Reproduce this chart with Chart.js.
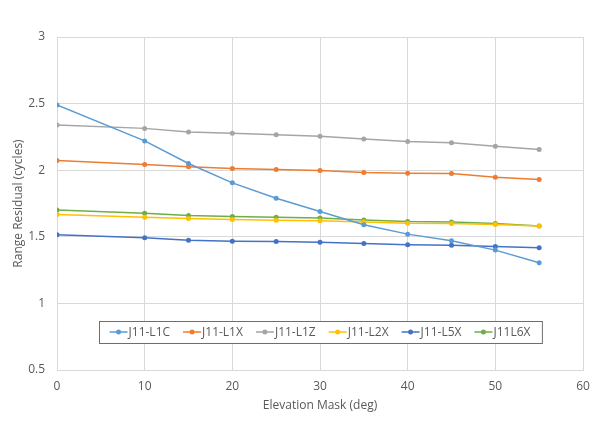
<!DOCTYPE html>
<html>
<head>
<meta charset="utf-8">
<script src="https://cdn.jsdelivr.net/npm/chart.js@4/dist/chart.umd.min.js"></script>
<style>
  html, body { margin: 0; padding: 0; background: #fff; }
  #wrap { width: 600px; height: 444px; position: relative; }
</style>
</head>
<body>
<div id="wrap"><canvas id="myChart"></canvas></div>
<script>
// Elevation mask angles (deg)
const elevation = [0, 10, 15, 20, 25, 30, 35, 40, 45, 50, 55];

// Range residual per signal (cycles)
const l1c = [2.49, 2.22, 2.05, 1.905, 1.79, 1.69, 1.59, 1.52, 1.47, 1.40, 1.305];
const l1x = [2.072, 2.042, 2.025, 2.012, 2.005, 1.997, 1.982, 1.977, 1.975, 1.947, 1.93];
const l1z = [2.34, 2.314, 2.287, 2.277, 2.267, 2.254, 2.235, 2.215, 2.207, 2.18, 2.155];
const l2x = [1.667, 1.647, 1.637, 1.63, 1.624, 1.62, 1.612, 1.602, 1.6, 1.592, 1.582];
const l5x = [1.515, 1.492, 1.474, 1.467, 1.464, 1.459, 1.449, 1.44, 1.437, 1.427, 1.417];
const l6x = [1.702, 1.677, 1.66, 1.652, 1.647, 1.642, 1.627, 1.614, 1.612, 1.6, 1.582];

const seriesNames = ['J11-L1C', 'J11-L1X', 'J11-L1Z', 'J11-L2X', 'J11-L5X', 'J11L6X'];
const seriesData = [l1c, l1x, l1z, l2x, l5x, l6x];
const colors = ['#5B9BD5', '#ED7D31', '#A5A5A5', '#FFC000', '#4472C4', '#70AD47'];

const FONT = '"Open Sans", sans-serif';
const TEXT = '#595959';

const datasets = seriesNames.map((name, i) => ({
    label: name,
    data: elevation.map((x, j) => ({ x: x, y: seriesData[i][j] })),
    borderColor: colors[i],
    backgroundColor: colors[i],
    borderWidth: 1.5,
    pointRadius: 2.5,
    pointBorderWidth: 0,
    tension: 0
}));

// legend box drawn inside the plot, near the bottom
const boxLegend = {
    id: 'boxLegend',
    afterDraw(chart) {
        const c = chart.ctx;
        const area = chart.chartArea;
        c.save();
        c.font = '12px ' + FONT;
        const seg = 18, gap = 1, sep = 13;
        const widths = seriesNames.map(n => seg + gap + c.measureText(n).width);
        const total = widths.reduce((a, b) => a + b, 0) + sep * (widths.length - 1);
        const boxW = total + 22, boxH = 22;
        const cx = (area.left + area.right) / 2;
        const cy = area.bottom - 38;
        const bx = Math.round(cx - boxW / 2) + 0.5, by = Math.round(cy - boxH / 2) + 0.5;
        c.fillStyle = '#fff';
        c.fillRect(bx, by, boxW, boxH);
        c.strokeStyle = '#6E6E6E';
        c.lineWidth = 1;
        c.strokeRect(bx, by, boxW, boxH);
        let x = cx - total / 2;
        c.textBaseline = 'middle';
        seriesNames.forEach((n, i) => {
            c.strokeStyle = colors[i];
            c.lineWidth = 1.5;
            c.beginPath();
            c.moveTo(x, cy);
            c.lineTo(x + seg, cy);
            c.stroke();
            c.fillStyle = colors[i];
            c.beginPath();
            c.arc(x + seg / 2, cy, 2.5, 0, Math.PI * 2);
            c.fill();
            c.fillStyle = TEXT;
            c.fillText(n, x + seg + gap, cy + 0.5);
            x += widths[i] + sep;
        });
        c.restore();
    }
};

const ctx = document.getElementById('myChart').getContext('2d');
const myChart = new Chart(ctx, {
    type: 'line',
    data: { datasets: datasets },
    options: {
        responsive: true,
        maintainAspectRatio: false,
        animation: false,
        layout: { padding: { top: 37, right: 17, left: 0, bottom: 0 } },
        plugins: { legend: { display: false }, tooltip: { enabled: false } },
        scales: {
            x: {
                type: 'linear',
                min: 0,
                max: 60,
                ticks: { stepSize: 10, padding: 9, color: TEXT, font: { family: FONT, size: 12 } },
                grid: { color: '#D9D9D9', drawTicks: false },
                border: { color: '#D9D9D9' },
                title: {
                    display: true,
                    text: 'Elevation Mask (deg)',
                    color: TEXT,
                    font: { family: FONT, size: 12 },
                    padding: { top: 0, bottom: 31 }
                },
                afterFit(scale) { scale.height = 74; }
            },
            y: {
                min: 0.5,
                max: 3,
                ticks: {
                    stepSize: 0.5, padding: 12, color: TEXT, font: { family: FONT, size: 12 },
                    callback: v => String(Number(v.toFixed(1)))
                },
                grid: { color: '#D9D9D9', drawTicks: false },
                border: { color: '#D9D9D9' },
                title: {
                    display: true,
                    text: 'Range Residual (cycles)',
                    color: TEXT,
                    font: { family: FONT, size: 12 },
                    padding: { top: 11, bottom: 0 }
                },
                afterFit(scale) { scale.width = 57; }
            }
        }
    },
    plugins: [boxLegend]
});
</script>
</body>
</html>
